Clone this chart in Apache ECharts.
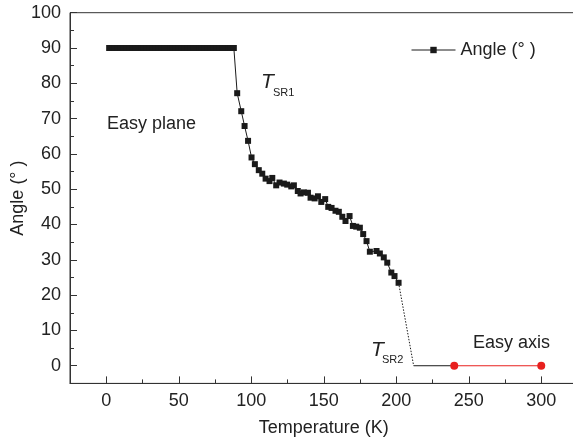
<!DOCTYPE html>
<html>
<head>
<meta charset="utf-8">
<script src="https://cdn.jsdelivr.net/npm/echarts@6/dist/echarts.min.js"></script>
<style>
  html, body { margin: 0; padding: 0; background: #fff; }
  #chart { width: 573px; height: 439px; }
</style>
</head>
<body>
<div id="chart"></div>
<script>
// easy-plane plateau + spin reorientation (black squares)
const temps = [
  2, 4, 6, 8, 10, 12, 14, 16, 18, 20, 22, 24, 26, 28, 30, 32, 34, 36, 38, 40, 42, 44,
  46, 48, 50, 52, 54, 56, 58, 60, 62, 64, 66, 68, 70, 72, 74, 76, 78, 80, 82, 84, 86, 88,
  90.3, 93.1, 95.4, 97.8, 100.2, 102.5, 105.2, 107.6, 109.9, 112.6, 114.5, 117.2, 119.5,
  122.5, 124.8, 127.6, 129.4, 132.1, 134, 136.3, 139.1, 140.9, 143.7, 146, 148.3, 151,
  153.1, 155.4, 158.1, 160.4, 162.8, 165, 167.8, 170.1, 172.4, 174.9, 177.2, 179.5,
  181.8, 186.4, 188.7, 191.4, 193.8, 196.6, 198.8, 201.6
];
const angles = [
  90, 90, 90, 90, 90, 90, 90, 90, 90, 90, 90, 90, 90, 90, 90, 90, 90, 90, 90, 90, 90, 90,
  90, 90, 90, 90, 90, 90, 90, 90, 90, 90, 90, 90, 90, 90, 90, 90, 90, 90, 90, 90, 90, 90,
  77.2, 72.1, 67.9, 63.7, 59.0, 57.1, 55.4, 54.4, 53.0, 52.3, 53.2, 51.1, 51.9,
  51.6, 51.3, 50.8, 51.1, 49.5, 48.8, 49.1, 49.0, 47.6, 47.4, 48.0, 46.4, 47.2,
  45.0, 44.7, 43.9, 43.6, 42.2, 41.0, 42.4, 39.6, 39.4, 39.1, 37.3, 35.3,
  32.3, 32.5, 31.8, 30.7, 29.2, 26.4, 25.4, 23.5
];
// dotted drop to T_SR2, then thin line to easy-axis points
const dotTemps = [201.6, 212];
const dotAngles = [23.5, 0];
const tailTemps = [212, 240];
const tailAngles = [0, 0];
const axisTemps = [240, 300];
const axisAngles = [0, 0];

const xMajor = [0, 50, 100, 150, 200, 250, 300];
const xMinor = [25, 75, 125, 175, 225, 275];
const yMajor = [0, 10, 20, 30, 40, 50, 60, 70, 80, 90, 100];
const yMinor = [5, 15, 25, 35, 45, 55, 65, 75, 85, 95];

const zip = (xs, ys) => xs.map((x, i) => [x, ys[i]]);

const FONT = "'Liberation Sans', Arial, sans-serif";
const AXIS = '#333';
const TEXT = '#222';

const chart = echarts.init(document.getElementById('chart'));

const xBase = {
  type: 'value', min: -25, max: 325, position: 'bottom', offset: 0,
  splitLine: { show: false },
};
const yBase = {
  type: 'value', min: -5, max: 100, position: 'left', offset: 0,
  splitLine: { show: false },
};

chart.setOption({
  animation: false,
  grid: {
    left: 70, top: 12.7, width: 507.5, height: 370.7,
    outerBoundsMode: 'none', containLabel: false,
    show: true, borderColor: AXIS, borderWidth: 1, backgroundColor: 'transparent',
  },
  legend: {
    data: ['Angle (° )'],
    left: 406, top: 36,
    itemWidth: 44, itemHeight: 8, itemGap: 5,
    lineStyle: { width: 1 },
    textStyle: { fontSize: 18, color: TEXT, fontFamily: FONT },
  },
  xAxis: [
    {
      ...xBase,
      name: 'Temperature (K)', nameLocation: 'middle', nameGap: 36, nameMoveOverlap: false,
      nameTextStyle: { fontSize: 18, color: TEXT, fontFamily: FONT },
      axisLine: { show: true, onZero: false, lineStyle: { color: AXIS, width: 1 } },
      axisTick: { show: true, inside: true, length: 7, customValues: xMajor, lineStyle: { color: AXIS } },
      axisLabel: { customValues: xMajor, fontSize: 18, color: TEXT, fontFamily: FONT, margin: 9 },
    },
    {
      ...xBase,
      axisLine: { show: false, onZero: false },
      axisTick: { show: true, inside: true, length: 4, customValues: xMinor, lineStyle: { color: AXIS } },
      axisLabel: { show: false },
    },
  ],
  yAxis: [
    {
      ...yBase,
      name: 'Angle (° )', nameLocation: 'middle', nameGap: 43, nameMoveOverlap: false,
      nameTextStyle: { fontSize: 18, color: TEXT, fontFamily: FONT },
      axisLine: { show: true, onZero: false, lineStyle: { color: AXIS, width: 1 } },
      axisTick: { show: true, inside: true, length: 7, customValues: yMajor, lineStyle: { color: AXIS } },
      axisLabel: { customValues: yMajor, fontSize: 18, color: TEXT, fontFamily: FONT, margin: 9 },
    },
    {
      ...yBase,
      axisLine: { show: false, onZero: false },
      axisTick: { show: true, inside: true, length: 4, customValues: yMinor, lineStyle: { color: AXIS } },
      axisLabel: { show: false },
    },
  ],
  series: [
    {
      name: 'Angle (° )', type: 'line',
      data: zip(temps, angles),
      symbol: 'rect', symbolSize: 6,
      itemStyle: { color: '#1a1a1a' },
      lineStyle: { color: '#1a1a1a', width: 1 },
      emphasis: { disabled: true },
    },
    {
      name: 'dot', type: 'line',
      data: zip(dotTemps, dotAngles),
      symbol: 'none',
      lineStyle: { color: '#1a1a1a', width: 1, type: [1.5, 1.5] },
    },
    {
      name: 'tail', type: 'line',
      data: zip(tailTemps, tailAngles),
      symbol: 'none',
      lineStyle: { color: '#1a1a1a', width: 1 },
    },
    {
      name: 'easyAxis', type: 'line',
      data: zip(axisTemps, axisAngles),
      symbol: 'circle', symbolSize: 8,
      itemStyle: { color: '#e8201e' },
      lineStyle: { color: '#e8201e', width: 1.2 },
      emphasis: { disabled: true },
    },
  ],
  graphic: [
    { type: 'text', x: 261, y: 82, style: { text: 'T', font: 'italic 21px ' + FONT, fill: TEXT, verticalAlign: 'middle' } },
    { type: 'text', x: 273, y: 93, style: { text: 'SR1', font: '11px ' + FONT, fill: TEXT, verticalAlign: 'middle' } },
    { type: 'text', x: 107, y: 124, style: { text: 'Easy plane', font: '18px ' + FONT, fill: TEXT, verticalAlign: 'middle' } },
    { type: 'text', x: 371, y: 350, style: { text: 'T', font: 'italic 21px ' + FONT, fill: TEXT, verticalAlign: 'middle' } },
    { type: 'text', x: 382, y: 360, style: { text: 'SR2', font: '11px ' + FONT, fill: TEXT, verticalAlign: 'middle' } },
    { type: 'text', x: 473, y: 343, style: { text: 'Easy axis', font: '18px ' + FONT, fill: TEXT, verticalAlign: 'middle' } },
  ],
});
</script>
</body>
</html>
